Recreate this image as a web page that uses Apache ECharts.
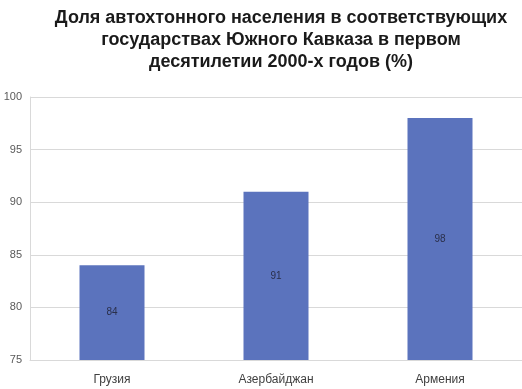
<!DOCTYPE html>
<html><head><meta charset="utf-8">
<script src="https://cdn.jsdelivr.net/npm/echarts@6/dist/echarts.min.js"></script>
<style>html,body{margin:0;padding:0;background:#fff}#c{width:522px;height:389px}</style>
</head><body><div id="c"></div>
<script>
const categories = ["Грузия", "Азербайджан", "Армения"];
const values = [84, 91, 98];
const titleText = "Доля автохтонного населения в соответствующих\nгосударствах Южного Кавказа в первом\nдесятилетии 2000-х годов (%)";

const chart = echarts.init(document.getElementById('c'), null, {renderer: 'canvas'});
chart.setOption({
  animation: false,
  backgroundColor: '#fff',
  title: {
    text: titleText,
    left: 276, top: 2, textAlign: 'center',
    textStyle: {fontFamily: 'Liberation Sans, Arial, sans-serif', fontWeight: 'bold', fontSize: 18, lineHeight: 22, color: '#1a1a1a'}
  },
  grid: {left: 30, right: 0, top: 97, bottom: 29, containLabel: false},
  xAxis: {
    type: 'category', data: categories,
    axisLine: {lineStyle: {color: '#d9d9d9'}},
    axisTick: {show: false},
    axisLabel: {color: '#404040', fontSize: 12, fontFamily: 'Liberation Sans, Arial, sans-serif', margin: 14}
  },
  yAxis: {
    type: 'value', min: 75, max: 100, interval: 5,
    axisLine: {show: true, lineStyle: {color: '#d9d9d9'}},
    axisTick: {show: false},
    splitLine: {lineStyle: {color: '#d9d9d9'}},
    axisLabel: {color: '#595959', fontSize: 11, fontFamily: 'Liberation Sans, Arial, sans-serif', margin: 8}
  },
  series: [{
    type: 'bar', data: values, barWidth: 65,
    itemStyle: {color: '#5b73bd'},
    label: {show: true, position: 'inside', color: '#2a2f4a', fontSize: 10, fontFamily: 'Liberation Sans, Arial, sans-serif'}
  }]
});
</script></body></html>
